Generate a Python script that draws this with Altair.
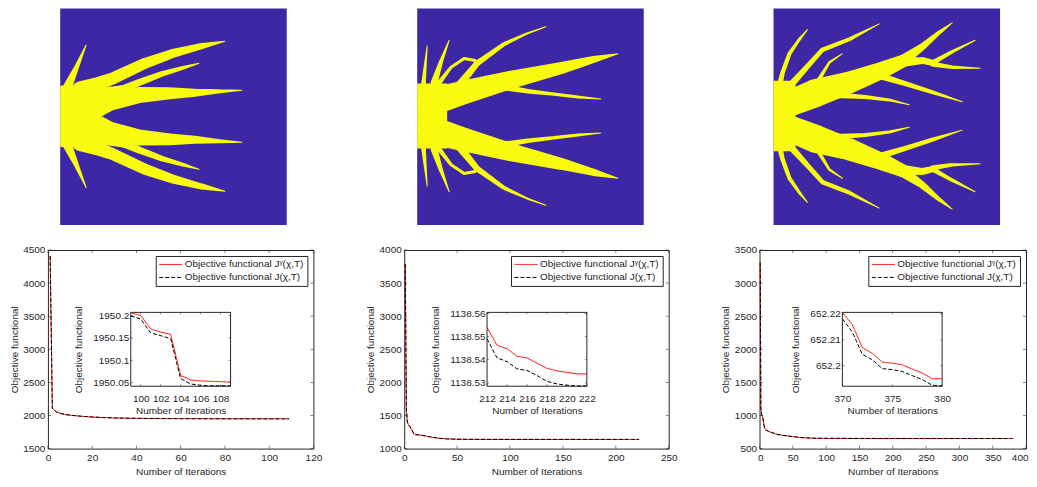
import altair as alt
import pandas as pd

FONT = "Liberation Sans"
TXT = "#262626"
RED = "#ff0000"
BLK = "#000000"
BLUE = "#3e27a5"
YEL = "#f9fb0e"

SERIES = ["Objective functional J\u1d5e(\u03c7,T)", "Objective functional J(\u03c7,T)"]
X_TITLE = "Number of Iterations"
Y_TITLE = "Objective functional"

# ---------------- convergence histories ----------------
p1_x = [1, 2, 3, 4, 5, 6, 8, 10, 13, 16, 20, 25, 30, 40, 50, 60, 70, 80, 90]
p1_y = [4410, 2110, 2075, 2052, 2038, 2028, 2014, 2005, 1995, 1986, 1977, 1969, 1963,
        1957, 1954, 1952.5, 1951.5, 1950.8, 1950.4]
i1_x = [99, 100, 101, 102, 103, 104, 105, 106, 107, 108, 109]
i1_red = [1950.206, 1950.200, 1950.170, 1950.163, 1950.158, 1950.066, 1950.056,
          1950.054, 1950.053, 1950.052, 1950.0515]
i1_blk = [1950.199, 1950.192, 1950.161, 1950.155, 1950.148, 1950.059, 1950.047,
          1950.044, 1950.043, 1950.043, 1950.043]
p1_xdom, p1_ydom = [0, 120], [1500, 4500]
p1_xticks = [0, 20, 40, 60, 80, 100, 120]
p1_yticks = [1500, 2000, 2500, 3000, 3500, 4000, 4500]
i1_xdom, i1_ydom = [99, 109], [1950.042, 1950.207]
i1_xticks = [100, 102, 104, 106, 108]
i1_yticks = [1950.05, 1950.1, 1950.15, 1950.2]

p2_x = [1, 2, 3, 4, 5, 7, 9, 10, 15, 20, 25, 30, 35, 40, 50, 60, 80, 100, 150, 200]
p2_y = [3790, 1600, 1400, 1360, 1340, 1290, 1225, 1212, 1205, 1192, 1175, 1163, 1153,
        1147, 1142, 1140, 1139, 1138.7, 1138.6, 1138.57]
i2_x = [212, 213, 214, 215, 216, 217, 218, 219, 220, 221, 222]
i2_red = [1138.5539, 1138.5462, 1138.5448, 1138.5415, 1138.5408, 1138.5385, 1138.5363,
          1138.5352, 1138.5346, 1138.5339, 1138.5339]
i2_blk = [1138.5490, 1138.5408, 1138.5392, 1138.5361, 1138.5354, 1138.5332, 1138.5307,
          1138.5296, 1138.5290, 1138.5287, 1138.5287]
p2_xdom, p2_ydom = [0, 250], [1000, 4000]
p2_xticks = [0, 50, 100, 150, 200, 250]
p2_yticks = [1000, 1500, 2000, 2500, 3000, 3500, 4000]
i2_xdom, i2_ydom = [212, 222], [1138.5286, 1138.5604]
i2_xticks = [212, 214, 216, 218, 220, 222]
i2_yticks = [1138.53, 1138.54, 1138.55, 1138.56]

p3_x = [1, 2, 3, 4, 5, 6, 7, 8, 10, 14, 20, 26, 35, 46, 61, 81, 100, 150, 200, 300]
p3_y = [3310, 1100, 1020, 990, 960, 900, 840, 800, 780, 757, 738, 716, 700, 686, 668,
        657, 654.5, 653.2, 652.7, 652.35]
i3_x = [370, 371, 372, 373, 374, 375, 376, 377, 378, 379, 380]
i3_red = [652.2205, 652.2159, 652.2070, 652.2048, 652.2014, 652.2010, 652.2004,
          652.1987, 652.1972, 652.1950, 652.1950]
i3_blk = [652.2181, 652.2130, 652.2044, 652.2023, 652.1989, 652.1985, 652.1978,
          652.1962, 652.1947, 652.1925, 652.1922]
p3_xdom, p3_ydom = [0, 400], [500, 3500]
p3_xticks = [0, 50, 100, 150, 200, 250, 300, 350, 400]
p3_yticks = [500, 1000, 1500, 2000, 2500, 3000, 3500]
i3_xdom, i3_ydom = [370, 380], [652.1921, 652.2206]
i3_xticks = [370, 375, 380]
i3_yticks = [652.2, 652.21, 652.22]

# ---------------- optimised topologies (image px: x, y, width) ----------------
IMG_W, IMG_H = 227, 225
img1_c = 112
img1_body = [0, 39, 80]
img1_branches = [
    [(6, 85, 10), (16, 62, 5), (26, 38, 0)],
    [(20, 84, 16), (36, 79, 14), (52, 73, 12), (85, 57, 11), (112, 47, 9), (142, 39, 6),
     (165, 34, 0)],
    [(36, 91, 14), (50, 87, 11), (64, 83, 7), (78, 80, 0)],
    [(58, 86, 8), (79, 77, 7), (102, 68, 5.5), (122, 62, 4), (139, 57, 0)],
    [(30, 104, 16), (39, 103, 18), (50, 98, 16), (79, 90, 16), (110, 88, 12),
     (135, 87.5, 8), (160, 86, 4), (182, 85, 0)],
]
img2_c = 111.7
img2_body = [0, 30, 78]
img2_branches = [
    [(6, 82, 5), (8, 60, 3), (10, 39, 0)],
    [(17, 77, 7), (24, 55, 4), (32, 33, 0)],
    [(20, 80, 5), (34, 61, 3), (47, 52, 3), (58, 54, 3)],
    [(42, 80, 8), (60, 57, 6), (87, 37, 4), (110, 26, 2), (129, 19, 0)],
    [(14, 97, 28), (44, 88, 24), (94, 74, 18), (144, 62, 12), (177, 53, 7), (201, 47, 0)],
    [(87, 82, 6), (111, 86, 4.5), (137, 89, 3.5), (161, 92, 3), (184, 94, 0)],
]
img3_c = 111.7
img3_body = [0, 22, 75]
img3_branches = [
    [(5, 85, 6), (9, 67, 4.5), (16, 47, 4), (26, 32, 3), (34, 22, 0)],
    [(17, 80, 7), (36, 58, 5), (49, 43, 4.5), (76, 32, 4), (106, 16, 0)],
    [(46, 73, 4), (56, 56, 2.5), (69, 47, 0)],
    [(13, 100, 26), (42, 88, 28), (76, 77, 22), (109, 64, 17), (129, 55, 13)],
    [(127, 56, 12), (149, 40, 7), (166, 25, 4), (179, 15, 0)],
    [(127, 56, 10), (149, 54, 7), (162, 57, 6)],
    [(160, 56, 5), (179, 45, 3.5), (202, 33, 0)],
    [(160, 58, 5), (179, 61, 3.5), (207, 62, 0)],
    [(100, 68, 7), (132, 78, 5), (159, 87, 4), (189, 97, 0)],
    [(60, 90, 6), (92, 92, 4), (116, 95, 3), (136, 100, 0)],
]

# ---------------- layout ----------------
PLOT_H = 199
PLOT_W = [266, 265, 267]
INSET_X = [83, 183]
INSET_Y = [136.5, 62.5]
IMG_CH = 217


def sc(dom, rng=None, reverse=False):
    kw = dict(domain=dom, nice=False, zero=False)
    if rng is not None:
        kw["range"] = rng
    if reverse:
        kw["reverse"] = True
    return alt.Scale(**kw)


def axis_kw(**kw):
    base = dict(tickSize=0, domain=False, grid=False, labelFont=FONT, labelFontSize=10,
                labelColor=TXT, titleFont=FONT, titleFontSize=10, titleColor=TXT,
                titleFontWeight="normal", labelFlush=False, labelOverlap=False)
    base.update(kw)
    return alt.Axis(**base)


LEG = alt.Legend(title=None, orient="top-right", offset=6, padding=3, strokeColor=TXT,
                 fillColor="white", symbolType="M-1,0H3.6", symbolSize=100,
                 symbolStrokeWidth=1, labelFont=FONT, labelFontSize=10, labelColor=TXT,
                 rowPadding=2, labelOffset=15, labelLimit=0)


def color_enc():
    return alt.Color("s:N", scale=alt.Scale(domain=SERIES, range=[RED, BLK]), legend=LEG)


def dash_enc():
    return alt.StrokeDash("s:N", scale=alt.Scale(domain=SERIES, range=[[1, 0], [4, 2]]),
                          legend=LEG)


def line_layers(xv, red, blk, xdom, ydom, xticks, yticks, xaxis, yaxis,
                xr=None, yr=None, frame=False, tl=3):
    layers = []

    def X(ax=None):
        return alt.X("x:Q", scale=sc(xdom, xr), axis=ax)

    def Y(ax=None):
        return alt.Y("y:Q", scale=sc(ydom, yr), axis=ax)

    if frame:
        fr = pd.DataFrame({"x": [xdom[0]], "x2": [xdom[1]], "y": [ydom[0]], "y2": [ydom[1]]})
        layers.append(alt.Chart(fr).mark_rect(fill="white", stroke=TXT, strokeWidth=1).encode(
            x=X(xaxis), x2="x2:Q", y=Y(yaxis), y2="y2:Q"))
    for i, vals in enumerate([red, blk]):
        d = pd.DataFrame({"x": xv, "y": vals, "s": SERIES[i]})
        own = (not frame) and i == 0
        layers.append(alt.Chart(d).mark_line(strokeWidth=1).encode(
            x=X(xaxis if own else None), y=Y(yaxis if own else None),
            color=color_enc(), strokeDash=dash_enc()))
    tick_sets = [
        (pd.DataFrame({"x": xticks, "y": ydom[0]}), "vertical", dict(yOffset=-tl / 2)),
        (pd.DataFrame({"x": xticks, "y": ydom[1]}), "vertical", dict(yOffset=tl / 2)),
        (pd.DataFrame({"x": xdom[0], "y": yticks}), "horizontal", dict(xOffset=tl / 2)),
        (pd.DataFrame({"x": xdom[1], "y": yticks}), "horizontal", dict(xOffset=-tl / 2)),
    ]
    for d, ori, off in tick_sets:
        layers.append(alt.Chart(d).mark_tick(orient=ori, size=tl, thickness=0.8, color=TXT,
                                             **off).encode(x=X(), y=Y()))
    return layers


def plot_chart(W, px, py, ix, ired, iblk, pxd, pyd, pxt, pyt, ixd, iyd, ixt, iyt,
               flush=False):
    xa = dict(values=pxt, format="d", title=X_TITLE, labelPadding=4, titlePadding=4)
    if flush:
        xa.update(labelFlush=True, labelFlushOffset=2)
    main = line_layers(
        px + ix, py + ired, py + iblk, pxd, pyd, pxt, pyt,
        axis_kw(**xa),
        axis_kw(values=pyt, format="d", title=Y_TITLE, labelPadding=3, titlePadding=3.5))
    ins = line_layers(
        ix, ired, iblk, ixd, iyd, ixt, iyt,
        axis_kw(orient="bottom", offset=-(PLOT_H - INSET_Y[0]), values=ixt, format="d",
                title=X_TITLE, labelPadding=7, titlePadding=2),
        axis_kw(orient="left", offset=-INSET_X[0], values=iyt, format=".12~g",
                title=Y_TITLE, labelPadding=2, titlePadding=9),
        xr=INSET_X, yr=INSET_Y, frame=True, tl=2)
    return alt.layer(*main, *ins).resolve_scale(x="independent", y="independent").properties(
        width=W, height=PLOT_H, view=alt.ViewBackground(stroke=TXT, strokeWidth=1))


def tree_df(branches, c):
    rows, bid = [], 0
    for br in branches:
        for mirror in (False, True):
            for i, (x, y, w) in enumerate(br):
                rows.append({"b": bid, "i": i, "x": x, "y": (2 * c - y) if mirror else y, "w": w})
            bid += 1
    return pd.DataFrame(rows)


def image_chart(branches, body, c, x0, width):
    xs = sc([x0, x0 + width])
    ys = sc([0, IMG_H], reverse=True)
    bg = alt.Chart(pd.DataFrame({"x": [0], "x2": [IMG_W], "y": [0], "y2": [IMG_H]})).mark_rect(
        color=BLUE).encode(x=alt.X("x:Q", scale=xs, axis=None), x2="x2:Q",
                           y=alt.Y("y:Q", scale=ys, axis=None), y2="y2:Q")
    bd = alt.Chart(pd.DataFrame({"x": [body[0]], "x2": [body[1]], "y": [body[2]],
                                 "y2": [2 * c - body[2]]})).mark_rect(color=YEL).encode(
        x=alt.X("x:Q", scale=xs, axis=None), x2="x2:Q",
        y=alt.Y("y:Q", scale=ys, axis=None), y2="y2:Q")
    tr = alt.Chart(tree_df(branches, c)).mark_trail(color=YEL).encode(
        x=alt.X("x:Q", scale=xs, axis=None), y=alt.Y("y:Q", scale=ys, axis=None),
        size=alt.Size("w:Q", scale=None), detail="b:N", order="i:Q")
    return alt.layer(bg, bd, tr).properties(width=width, height=IMG_CH)


row1 = alt.hconcat(
    image_chart(img1_branches, img1_body, img1_c, -12.3, 239.3),
    image_chart(img2_branches, img2_body, img2_c, 0, 227),
    image_chart(img3_branches, img3_body, img3_c, 0, 227),
    spacing=130)

row2 = alt.hconcat(
    plot_chart(PLOT_W[0], p1_x, p1_y, i1_x, i1_red, i1_blk, p1_xdom, p1_ydom, p1_xticks,
               p1_yticks, i1_xdom, i1_ydom, i1_xticks, i1_yticks),
    plot_chart(PLOT_W[1], p2_x, p2_y, i2_x, i2_red, i2_blk, p2_xdom, p2_ydom, p2_xticks,
               p2_yticks, i2_xdom, i2_ydom, i2_xticks, i2_yticks),
    plot_chart(PLOT_W[2], p3_x, p3_y, i3_x, i3_red, i3_blk, p3_xdom, p3_ydom, p3_xticks,
               p3_yticks, i3_xdom, i3_ydom, i3_xticks, i3_yticks, flush=True),
    spacing=91, bounds="flush").resolve_scale(color="independent", strokeDash="independent")

chart = alt.vconcat(row1, row2, spacing=19).properties(padding=0)
chart = chart.configure(font=FONT).configure_view(strokeWidth=0)

chart.save("out.html", embed_options={"renderer": "svg", "actions": False})
